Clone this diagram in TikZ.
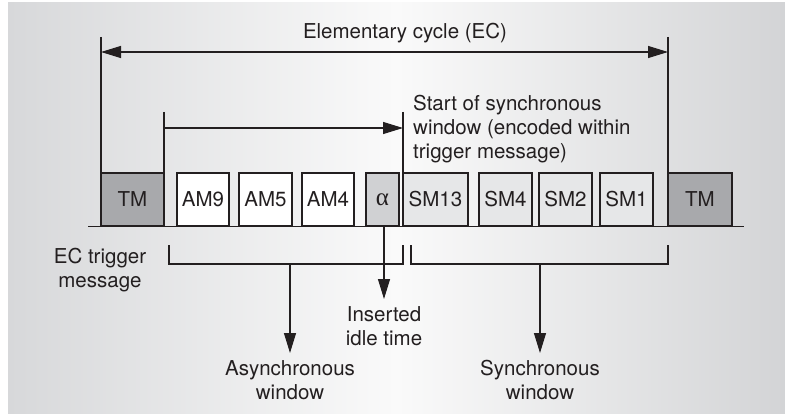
\documentclass[tikz,border=0pt]{standalone}
\usepackage{fontspec}
\setmainfont{TeX Gyre Heros}
\newfontfamily\grk{Liberation Serif}
\usetikzlibrary{arrows.meta}
\definecolor{ink}{HTML}{231F20}
\definecolor{panelL}{HTML}{D7D8DA}
\definecolor{panelM}{HTML}{FAFAFA}
\definecolor{panelR}{HTML}{D3D4D6}
\definecolor{tmfill}{HTML}{A8A9AC}
\definecolor{alfill}{HTML}{D0D1D3}
\definecolor{smfill}{HTML}{E6E7E8}
\begin{document}
\begin{tikzpicture}[x=1pt,y=-1pt,
  font=\fontsize{20.5}{24}\selectfont,
  msg/.style={draw=ink, line width=1.2pt, minimum height=53pt, inner sep=0pt, outer sep=0pt, text=ink, anchor=center},
  tmbox/.style={msg, fill=tmfill},
  ambox/.style={msg, fill=white},
  albox/.style={msg, fill=alfill},
  smbox/.style={msg, fill=smfill},
  ln/.style={draw=ink, line width=1.2pt},
  arr/.style={ln, -{Triangle[length=20pt,width=12pt]}},
  dbl/.style={ln, {Triangle[length=20pt,width=12pt]}-{Triangle[length=20pt,width=12pt]}},
  lbl/.style={text=ink, align=center, inner xsep=0pt, inner ysep=7pt, anchor=north}
]
\useasboundingbox (0,0) rectangle (785,417);
\fill[white] (0,0) rectangle (785,417);
\shade[left color=panelL, right color=panelR, middle color=panelM] (8,3) rectangle (785,413);

% baseline
\coordinate (baseL) at (88,226.5);
\coordinate (baseR) at (744,226.5);
\draw[ln] (baseL) -- (baseR);

% message boxes
\node[tmbox, minimum width=63pt] (TM1) at (132.5,199.5) {TM};
\node[ambox, minimum width=52pt] (AM9) at (203,199.5) {AM9};
\node[ambox, minimum width=53pt] (AM5) at (265.5,199.5) {AM5};
\node[ambox, minimum width=52pt] (AM4) at (328,199.5) {AM4};
\node[albox, minimum width=33pt] (AL) at (382.5,199.5) {\grk\fontsize{25}{25}\selectfont α};
\node[smbox, minimum width=65pt] (SM13) at (435.5,199.5) {SM13};
\node[smbox, minimum width=53pt] (SM4) at (505.5,199.5) {SM4};
\node[smbox, minimum width=53pt] (SM2) at (565.5,199.5) {SM2};
\node[smbox, minimum width=53pt] (SM1) at (626.5,199.5) {SM1};
\node[tmbox, minimum width=64pt] (TM2) at (700,199.5) {TM};

% elementary cycle
\coordinate (ecTopL) at (101,37);
\coordinate (ecTopR) at (668,37);
\draw[ln] (ecTopL) -- (TM1.north west);
\draw[ln] (ecTopR) -- (TM2.north west);
\coordinate (ecL) at (101,52);
\coordinate (ecR) at (668,52);
\draw[dbl] (ecL) -- (ecR);
\node[text=ink, anchor=base] (ecTxt) at (405,38.5) {Elementary cycle (EC)};

% start of synchronous window
\coordinate (asTop) at (164,112);
\coordinate (ssTop) at (403,112);
\draw[ln] (asTop) -- (TM1.north east);
\draw[ln] (ssTop) -- (SM13.north west);
\coordinate (ssL) at (164,128);
\coordinate (ssR) at (403,128);
\draw[arr] (ssL) -- (ssR);
\node[text=ink, align=left, anchor=north west, inner sep=0pt] (ssTxt) at (413,94.5)
  {Start of synchronous\\window (encoded within\\trigger message)};

% EC trigger message
\node[text=ink, align=center, anchor=north, inner sep=0pt] (ecTrig) at (100,247.6)
  {EC trigger\\message};

% brackets
\coordinate (aw1) at (169,245);
\coordinate (aw2) at (169,264);
\coordinate (aw3) at (403,264);
\coordinate (aw4) at (403,245);
\draw[ln] (aw1) -- (aw2) -- (aw3) -- (aw4);
\coordinate (sw1) at (411,245);
\coordinate (sw2) at (411,264);
\coordinate (sw3) at (668,264);
\coordinate (sw4) at (668,245);
\draw[ln] (sw1) -- (sw2) -- (sw3) -- (sw4);

% labels and arrows below
\node[lbl] (asyncTxt) at (290,353) {Asynchronous\\window};
\node[lbl] (syncTxt) at (540,353) {Synchronous\\window};
\node[lbl] (idleTxt) at (384,299) {Inserted\\idle time};
\coordinate (aMid) at (290,264);
\coordinate (sMid) at (540,264);
\draw[arr] (aMid) -- (asyncTxt.north);
\draw[arr] (sMid) -- (syncTxt.north);
\draw[arr] (AL.south -| idleTxt.north) -- (idleTxt.north);
\end{tikzpicture}
\end{document}
